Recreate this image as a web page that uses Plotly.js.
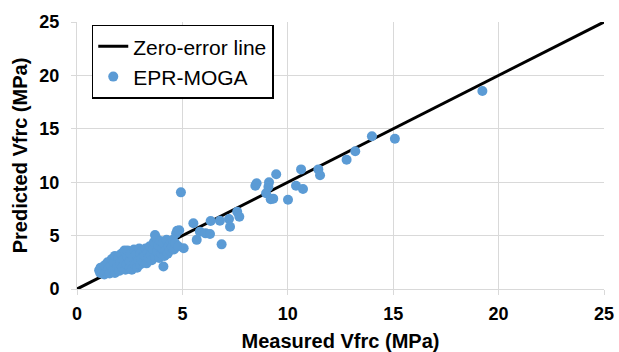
<!DOCTYPE html>
<html>
<head>
<meta charset="utf-8">
<script src="https://cdn.plot.ly/plotly-3.0.1.min.js"></script>
<style>
html,body{margin:0;padding:0;background:#fff;}
#chart{width:619px;height:352px;}
#chart .xtick text, #chart .ytick text{font-weight:bold !important;}
</style>
</head>
<body>
<div id="chart"></div>
<script>
// Zero-error line endpoints (measured = predicted)
const lineX = [0, 25];
const lineY = [0, 25];

// EPR-MOGA: measured Vfrc (MPa)
const measured = [
  1.05,1.1,1.12,1.2,1.25,1.3,1.3,
  1.4,1.45,1.5,1.55,1.6,1.65,1.7,1.75,1.8,1.8,
  1.9,1.95,2.0,2.05,2.1,2.15,2.2,2.25,2.3,2.35,2.4,2.4,
  2.5,2.5,2.55,2.6,2.65,2.7,2.75,2.8,2.85,2.9,2.95,3.0,3.0,
  3.05,3.1,3.15,3.2,3.25,3.3,3.35,3.4,3.45,3.5,3.55,3.6,3.65,3.7,3.7,3.75,
  3.8,3.85,3.9,3.95,4.0,4.05,4.1,4.1,4.15,4.2,4.25,4.3,4.35,4.4,4.45,4.5,4.55,4.6,4.65,4.7,4.75,4.8,4.85,
  4.93,5.06,5.52,5.68,5.83,6.1,6.31,6.34,6.78,6.86,7.21,7.26,7.6,7.7,
  8.46,8.52,8.97,9.08,9.11,9.19,9.31,9.45,10.01,10.39,10.72,10.63,11.45,11.53,
  12.79,13.2,13.99,15.08,19.23
];
// EPR-MOGA: predicted Vfrc (MPa)
const predicted = [
  1.75,1.5,2.0,1.45,1.8,2.2,1.35,
  1.6,2.5,1.9,1.45,2.2,2.8,1.7,2.5,3.1,1.5,
  2.0,2.9,1.7,2.4,3.3,2.0,2.7,3.6,1.8,2.3,3.0,3.6,
  2.0,2.6,3.3,1.8,2.9,3.7,2.3,3.2,2.0,2.7,3.8,2.3,3.3,
  2.8,3.6,2.5,3.1,3.8,2.4,3.4,2.9,4.0,3.2,2.7,3.7,4.4,3.0,5.05,4.8,
  3.5,4.1,2.9,4.5,3.3,3.8,2.1,4.3,3.1,3.6,4.6,3.3,4.0,3.6,4.4,3.9,4.6,3.7,4.3,5.2,5.45,4.0,5.5,
  9.05,3.81,6.15,4.6,5.37,5.21,5.15,6.37,6.39,4.18,6.55,5.83,7.24,6.77,
  9.67,9.9,8.96,9.58,9.99,8.4,8.46,10.74,8.36,9.67,9.36,11.2,11.2,10.65,
  12.1,12.9,14.3,14.07,18.54
];

const axisTicks = [0, 5, 10, 15, 20, 25];

const font = {family: 'Liberation Sans, Arial, sans-serif', color: '#000'};

const traces = [
  {
    x: lineX, y: lineY, mode: 'lines', name: 'Zero-error line',
    line: {color: '#000', width: 3}
  },
  {
    x: measured, y: predicted, mode: 'markers', name: 'EPR-MOGA',
    marker: {color: '#5b9bd5', size: 10}
  }
];

const axisCommon = {
  range: [0, 25], tickvals: axisTicks, ticktext: axisTicks.map(String),
  showgrid: true, gridcolor: '#d9d9d9', gridwidth: 1,
  showline: true, linecolor: '#d9d9d9', linewidth: 1,
  ticks: 'outside', ticklen: 5, tickcolor: '#d9d9d9',
  zeroline: false, fixedrange: true,
  tickfont: Object.assign({}, font, {size: 18, weight: 'bold'})
};

const titleFont = Object.assign({}, font, {size: 20, weight: 'bold'});

const layout = {
  width: 619, height: 352,
  margin: {l: 77, r: 15, t: 22, b: 63},
  paper_bgcolor: '#fff', plot_bgcolor: '#fff',
  showlegend: true,
  legend: {
    x: 0.028, y: 0.99, xanchor: 'left', yanchor: 'top',
    bgcolor: '#fff', bordercolor: '#000', borderwidth: 1.5,
    font: Object.assign({}, font, {size: 21}),
    tracegroupgap: 0
  },
  xaxis: Object.assign({}, axisCommon, {
    ticklabelstandoff: 3,
    title: {text: 'Measured Vfrc (MPa)', font: titleFont, standoff: 12}
  }),
  yaxis: Object.assign({}, axisCommon, {
    ticklabelstandoff: 8,
    title: {text: 'Predicted Vfrc (MPa)', font: titleFont, standoff: 6}
  })
};

Plotly.newPlot('chart', traces, layout, {staticPlot: true, displayModeBar: false});
</script>
</body>
</html>
